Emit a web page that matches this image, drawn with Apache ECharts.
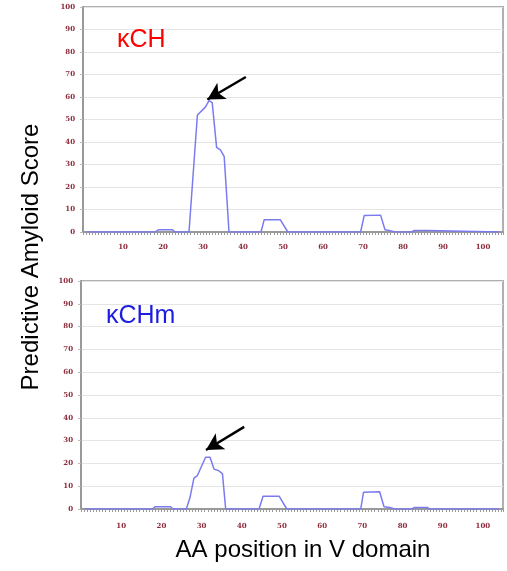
<!DOCTYPE html>
<html>
<head>
<meta charset="utf-8">
<style>
  html, body { margin: 0; padding: 0; background: #fff; }
  #chart { width: 507px; height: 571px; }
</style>
<script src="https://cdn.jsdelivr.net/npm/echarts@6/dist/echarts.min.js"></script>
</head>
<body>
<div id="chart"></div>
<script>
// kCH (top panel)
var posCH = [1, 18, 18.8, 22.4, 23, 26.5, 28.6, 30.6, 31.5, 32.3, 33.4, 34.4, 35.3, 36.5, 44.5, 45.3, 49.3, 51.2, 69.4, 70.3, 74.4, 75.5, 77.1, 78, 82.2, 82.8, 86, 86.5, 104]
var scoreCH = [0, 0, 1, 1, 0, 0, 52, 55.5, 58.4, 57.5, 37.6, 36.4, 33.5, 0, 0, 5.5, 5.5, 0, 0, 7.3, 7.5, 1, 0.5, 0, 0, 0.7, 0.7, 0, 0]
// kCHm (bottom panel)
var posCHm = [1, 17.7, 18.5, 22.3, 22.8, 26.2, 27.1, 28.1, 28.9, 31, 32.1, 33.1, 34.3, 35.2, 36, 44.3, 45.3, 49.3, 51.2, 69.6, 70.3, 74.3, 75.4, 77.2, 78, 82.3, 83, 86.2, 86.7, 104]
var scoreCHm = [0, 0, 1, 1, 0, 0, 4.9, 13.5, 14.5, 22.7, 22.7, 17.5, 16.8, 15.4, 0, 0, 5.6, 5.6, 0, 0, 7.4, 7.6, 1, 0.5, 0, 0, 0.7, 0.7, 0, 0]
// arrows: [tail, tip] in data units
var arrowCH = [[40.7, 68.9], [31.1, 58.9]]
var arrowCHm = [[40.6, 36], [31.1, 25.9]]
var yTicks = [0, 100, 10]
var xTicks = [0, 105, 10]

function pairs (xs, ys) {
  return xs.map(function (x, i) { return [x, ys[i]] })
}

var tickFont = {
  color: '#8e2c3c',
  fontFamily: 'DejaVu Serif',
  fontWeight: 'bold',
  fontSize: 7
}

function makeX (idx, margin) {
  return {
    type: 'value',
    gridIndex: idx,
    min: xTicks[0],
    max: xTicks[1],
    interval: xTicks[2],
    axisLine: { onZero: false, lineStyle: { color: '#999', width: 2 } },
    axisTick: { show: true, length: 3, lineStyle: { color: '#999' } },
    minorTick: { show: true, splitNumber: 13, length: 3, lineStyle: { color: '#999' } },
    splitLine: { show: false },
    axisLabel: Object.assign({ margin: margin, showMinLabel: false, showMaxLabel: false }, tickFont)
  }
}

function makeY (idx) {
  return {
    type: 'value',
    gridIndex: idx,
    min: yTicks[0],
    max: yTicks[1],
    interval: yTicks[2],
    axisLine: { show: true, lineStyle: { color: '#999', width: 2 } },
    axisTick: { show: true, length: 3, lineStyle: { color: '#bbb' } },
    splitLine: { show: true, lineStyle: { color: '#e4e4e4', width: 1 } },
    axisLabel: Object.assign({ margin: 8 }, tickFont)
  }
}

function makeSeries (idx, data, arrow) {
  return {
    type: 'line',
    xAxisIndex: idx,
    yAxisIndex: idx,
    data: data,
    showSymbol: false,
    symbol: 'none',
    lineStyle: { color: '#7b7bf0', width: 1.5 },
    z: 3,
    markLine: {
      silent: true,
      symbol: ['none', 'arrow'],
      symbolSize: [14, 17],
      label: { show: false },
      lineStyle: { color: '#000', width: 2.5, type: 'solid' },
      data: [[{ coord: arrow[0] }, { coord: arrow[1] }]]
    }
  }
}

var chart = echarts.init(document.getElementById('chart'))
chart.setOption({
  animation: false,
  grid: [
    { left: 83, top: 7, width: 420, height: 225, show: true, borderColor: '#b0b0b0', borderWidth: 2 },
    { left: 81, top: 281, width: 422, height: 228, show: true, borderColor: '#b0b0b0', borderWidth: 2 }
  ],
  xAxis: [makeX(0, 12), makeX(1, 14)],
  yAxis: [makeY(0), makeY(1)],
  series: [
    makeSeries(0, pairs(posCH, scoreCH), arrowCH),
    makeSeries(1, pairs(posCHm, scoreCHm), arrowCHm)
  ],
  graphic: [
    {
      type: 'text', x: 117, y: 40, z: 10,
      style: { text: 'κCH', fill: '#ff0000', font: '25px "Liberation Sans", Arial, sans-serif', verticalAlign: 'middle' }
    },
    {
      type: 'text', x: 106, y: 316, z: 10,
      style: { text: 'κCHm', fill: '#1c1ce0', font: '25px "Liberation Sans", Arial, sans-serif', verticalAlign: 'middle' }
    },
    {
      type: 'text', x: 31, y: 257, rotation: Math.PI / 2,
      style: {
        text: 'Predictive Amyloid Score', fill: '#000',
        font: '24px "Liberation Sans", Arial, sans-serif',
        align: 'center', verticalAlign: 'middle'
      }
    },
    {
      type: 'text', x: 303, y: 550,
      style: {
        text: 'AA position in V domain', fill: '#000',
        font: '24px "Liberation Sans", Arial, sans-serif',
        align: 'center', verticalAlign: 'middle'
      }
    }
  ]
})
</script>
</body>
</html>
